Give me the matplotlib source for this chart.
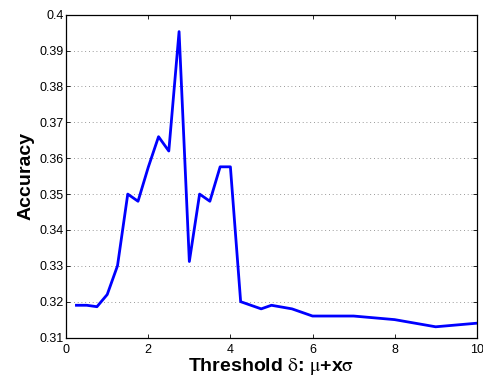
import matplotlib
matplotlib.use("Agg")
import matplotlib.pyplot as plt

# threshold multiplier x and resulting accuracy
thresh = [0.25, 0.5, 0.75, 1.0, 1.25, 1.5, 1.75, 2.0, 2.25, 2.5, 2.75, 3.0,
          3.25, 3.5, 3.75, 4.0, 4.25, 4.75, 5.0, 5.5, 6.0, 7.0, 8.0, 9.0, 10.0]
accuracy = [0.319, 0.319, 0.3186, 0.322, 0.330, 0.350, 0.348, 0.3575, 0.366,
            0.362, 0.3953, 0.3312, 0.350, 0.348, 0.3576, 0.3576, 0.320,
            0.318, 0.319, 0.318, 0.316, 0.316, 0.315, 0.313, 0.314]

yticks = [0.31, 0.32, 0.33, 0.34, 0.35, 0.36, 0.37, 0.38, 0.39, 0.4]
xticks = [0, 2, 4, 6, 8, 10]

plt.rcParams['font.family'] = ['Liberation Sans', 'DejaVu Sans']
plt.rcParams['mathtext.fontset'] = 'stix'

fig = plt.figure(figsize=(4.83, 3.78), dpi=100)
ax = fig.add_axes([0.137, 0.107, 0.850, 0.854])

ax.plot(thresh, accuracy, color='#0000ff', linewidth=2.0)

ax.set_xlim(0, 10)
ax.set_ylim(0.31, 0.4)
ax.set_xticks(xticks)
ax.set_yticks(yticks)
ax.set_yticklabels(['0.31', '0.32', '0.33', '0.34', '0.35', '0.36',
                    '0.37', '0.38', '0.39', '0.4'])
ax.tick_params(direction='in', top=True, right=True, length=3, width=0.6,
               labelsize=9, pad=2)
ax.tick_params(axis='x', pad=5)
ax.grid(axis='y', linestyle=(0, (1, 3.5)), color='#777777', linewidth=0.6)
for s in ax.spines.values():
    s.set_linewidth(0.9)

ax.set_ylabel('Accuracy', fontsize=14, fontweight='bold', labelpad=3)
ax.set_xlabel(r'Threshold $\mathrm{\delta}$: $\mathrm{\mu}$+x$\mathrm{\sigma}$',
              fontsize=14, fontweight='bold', labelpad=0)

fig.savefig('out.png', dpi=100)
